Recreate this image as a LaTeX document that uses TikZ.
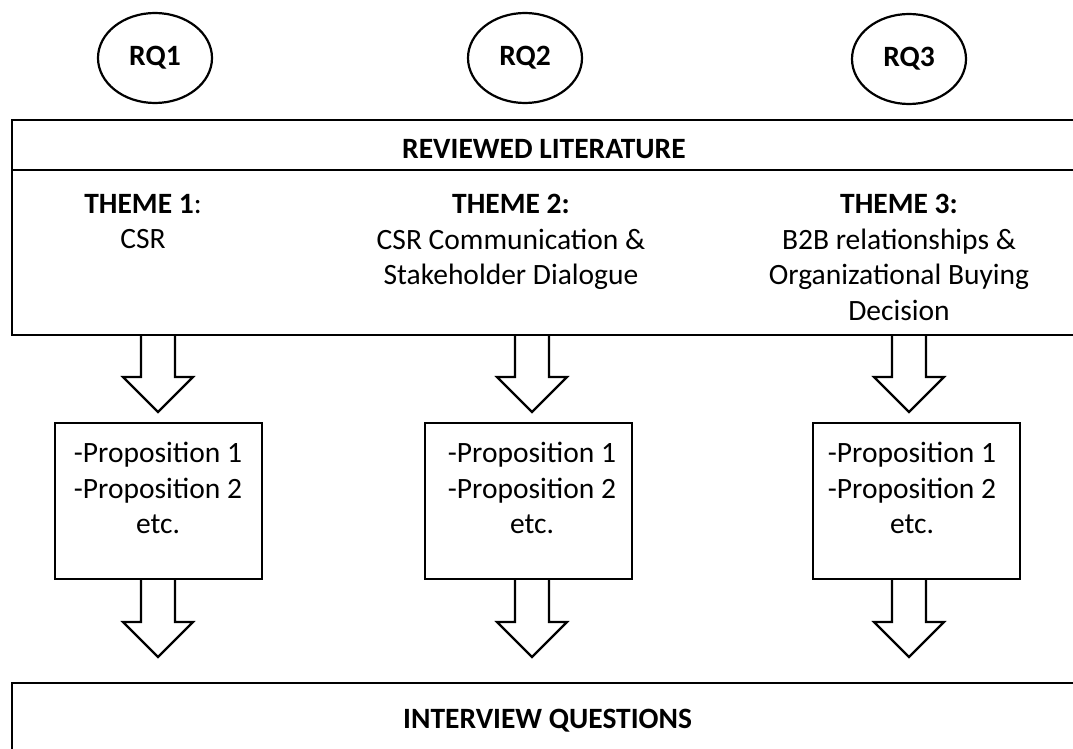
\documentclass[tikz,border=0pt]{standalone}
\usepackage{fontspec}
\setmainfont{Carlito}
\usetikzlibrary{shapes.geometric,calc}
\tikzset{
  rq/.style={draw, ellipse, line width=2.2pt, minimum width=114pt, minimum height=90pt,
    inner sep=0pt, font=\fontsize{29.5pt}{35.5pt}\selectfont\bfseries},
  frame/.style={draw, line width=2.6pt, inner sep=0pt, outer sep=0pt},
  txt/.style={inner sep=0pt, align=center},
  blockarrow/.style={draw, line width=2.2pt, line join=miter},
}
% hollow block arrow pointing down: #1 = start of the shaft, #2 = tip
\newcommand\hollowdown[2]{%
  \draw[blockarrow] ($(#1)+(-17,0)$) -- ($(#2)+(-17,-35)$) -- ($(#2)+(-35,-35)$)
    -- (#2) -- ($(#2)+(35,-35)$) -- ($(#2)+(17,-35)$) -- ($(#1)+(17,0)$);}
\begin{document}
\begin{tikzpicture}[x=1pt, y=-1pt, font=\fontsize{29.5pt}{35.5pt}\selectfont]
  \fill[white] (0,0) rectangle (1073,749);
  \useasboundingbox (0,0) rectangle (1073,749);
  \clip (0,0) rectangle (1073,749);

  % research questions
  \node[rq] (rq1) at (155,58) {RQ1};
  \node[rq] (rq2) at (525,58) {RQ2};
  \node[rq] (rq3) at (909,59) {RQ3};

  % reviewed literature block
  \node[frame, anchor=north west, minimum width=1080pt, minimum height=50pt] (head) at (12,120) {};
  \node[frame, anchor=north west, minimum width=1080pt, minimum height=165pt] (body) at (head.south west) {};
  \node[txt, anchor=base west] (headtxt) at (402,158) {\bfseries REVIEWED LITERATURE};

  \node[txt, anchor=north] (theme1) at (143,194) {\textbf{THEME 1}:\\CSR};
  \node[txt, anchor=north] (theme2) at (511,194) {\textbf{THEME 2:}\\CSR Communication \&\\Stakeholder Dialogue};
  \node[txt, anchor=north] (theme3) at (899,194) {\textbf{THEME 3:}\\B2B relationships \&\\Organizational Buying\\Decision};

  % proposition boxes
  \node[frame, anchor=north west, minimum width=207pt, minimum height=156pt] (prop1) at (55,423) {};
  \node[frame, anchor=north west, minimum width=207pt, minimum height=156pt] (prop2) at (425,423) {};
  \node[frame, anchor=north west, minimum width=207pt, minimum height=156pt] (prop3) at (813,423) {};
  \node[txt, anchor=north] (p1txt) at (158,442) {-Proposition 1\\-Proposition 2\\etc.};
  \node[txt, anchor=north] (p2txt) at (532,442) {-Proposition 1\\-Proposition 2\\etc.};
  \node[txt, anchor=north] (p3txt) at (912,442) {-Proposition 1\\-Proposition 2\\etc.};

  % interview questions block
  \node[frame, anchor=north west, minimum width=1080pt, minimum height=100pt] (iq) at (12,683) {};
  \node[txt, anchor=base west] (iqtxt) at (403,728) {\bfseries INTERVIEW QUESTIONS};

  % arrow tips and shaft starts
  \coordinate (t1) at (158,412);
  \coordinate (t2) at (532,412);
  \coordinate (t3) at (909,412);
  \coordinate (t4) at (158,657);
  \coordinate (t5) at (532,657);
  \coordinate (t6) at (909,657);
  \coordinate (s1) at (t1 |- body.south);
  \coordinate (s2) at (t2 |- body.south);
  \coordinate (s3) at (t3 |- body.south);
  \coordinate (s4) at (t4 |- prop1.south);
  \coordinate (s5) at (t5 |- prop2.south);
  \coordinate (s6) at (t6 |- prop3.south);

  \hollowdown{s1}{t1}
  \hollowdown{s2}{t2}
  \hollowdown{s3}{t3}
  \hollowdown{s4}{t4}
  \hollowdown{s5}{t5}
  \hollowdown{s6}{t6}
\end{tikzpicture}
\end{document}
